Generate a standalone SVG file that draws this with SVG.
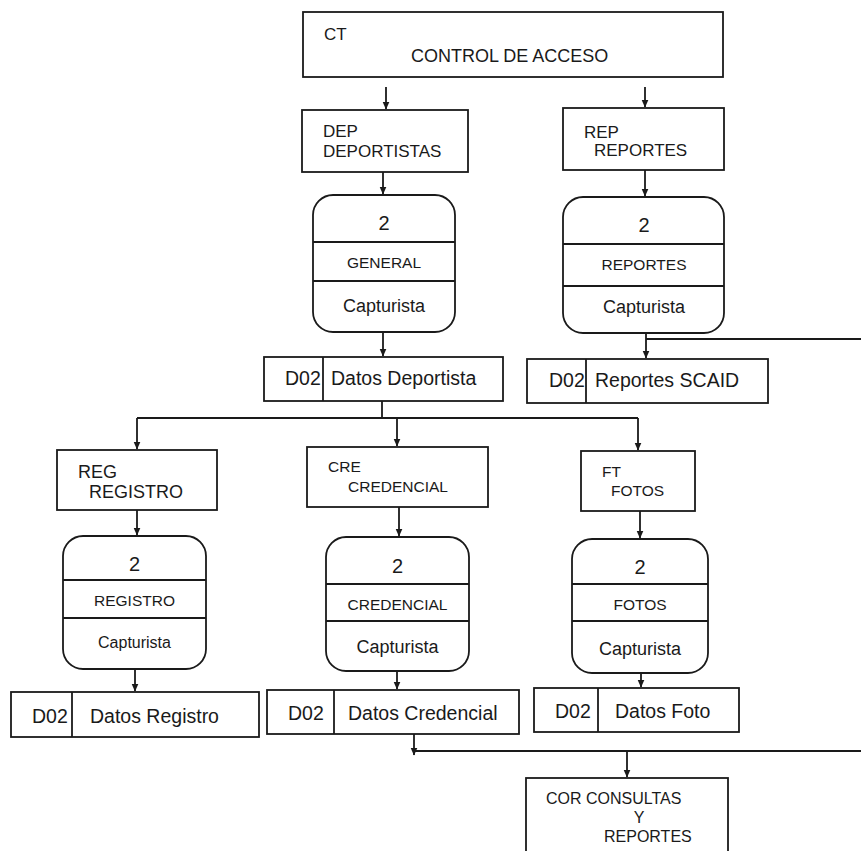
<svg xmlns="http://www.w3.org/2000/svg" width="861" height="851" viewBox="0 0 861 851">
<style>
.box{fill:#fff;stroke:#1a1a1a;stroke-width:1.8}
.ln{fill:none;stroke:#1a1a1a;stroke-width:1.8}
text{font-family:"Liberation Sans",Arial,sans-serif;fill:#1a1a1a}
.c{text-anchor:middle}
.t{font-size:17px}
.n{font-size:20px}
.m{font-size:15.5px}
.cap{font-size:18px}
.d{font-size:19.5px}
</style>
<defs>
<marker id="ah" viewBox="0 0 8 10" refX="7.5" refY="5" markerWidth="8" markerHeight="10" markerUnits="userSpaceOnUse" orient="auto">
<path d="M0,1.5 L8,5 L0,8.5 Z" fill="#1a1a1a"/>
</marker>
</defs>
<rect width="861" height="851" fill="#fff"/>

<g id="connectors">
<path class="ln" d="M386,87 V109" marker-end="url(#ah)"/>
<path class="ln" d="M645,87 V107" marker-end="url(#ah)"/>
<path class="ln" d="M383,172 V194" marker-end="url(#ah)"/>
<path class="ln" d="M645,170 V196" marker-end="url(#ah)"/>
<path class="ln" d="M383,332 V356" marker-end="url(#ah)"/>
<path class="ln" d="M646,333 V358" marker-end="url(#ah)"/>
<path class="ln" d="M646,339 H861"/>
<path class="ln" d="M382,401 V418 M137,418 H638"/>
<path class="ln" d="M137,418 V449" marker-end="url(#ah)"/>
<path class="ln" d="M397,418 V446" marker-end="url(#ah)"/>
<path class="ln" d="M638,418 V450" marker-end="url(#ah)"/>
<path class="ln" d="M137,510 V535" marker-end="url(#ah)"/>
<path class="ln" d="M399,507 V536" marker-end="url(#ah)"/>
<path class="ln" d="M640,511 V538" marker-end="url(#ah)"/>
<path class="ln" d="M135,669 V691" marker-end="url(#ah)"/>
<path class="ln" d="M397,671 V689" marker-end="url(#ah)"/>
<path class="ln" d="M641,673 V687" marker-end="url(#ah)"/>
<path class="ln" d="M414,734 V755" marker-end="url(#ah)"/>
<path class="ln" d="M414,751 H861"/>
<path class="ln" d="M627,751 V777" marker-end="url(#ah)"/>
</g>

<g id="ct">
<rect class="box" x="303" y="12" width="420" height="65"/>
<text class="t" x="324" y="40">CT</text>
<text class="cap" x="411" y="62">CONTROL DE ACCESO</text>
</g>

<g id="dep">
<rect class="box" x="302" y="110" width="166" height="62"/>
<text class="t" x="323" y="137">DEP</text>
<text class="t" x="323" y="157">DEPORTISTAS</text>
</g>

<g id="rep">
<rect class="box" x="563" y="108" width="161" height="62"/>
<text class="t" x="584" y="138">REP</text>
<text class="t" x="594" y="156">REPORTES</text>
</g>

<g id="proc-general">
<rect class="box" x="313" y="195" width="142" height="137" rx="20"/>
<path class="ln" d="M313,242 H455 M313,281 H455"/>
<text class="n c" x="384" y="230">2</text>
<text class="m c" x="384" y="268">GENERAL</text>
<text class="cap c" x="384" y="312">Capturista</text>
</g>

<g id="proc-reportes">
<rect class="box" x="563" y="197" width="161" height="136" rx="20"/>
<path class="ln" d="M563,244 H724 M563,286 H724"/>
<text class="n c" x="644" y="232">2</text>
<text class="m c" x="644" y="270">REPORTES</text>
<text class="cap c" x="644" y="313">Capturista</text>
</g>

<g id="ds-deportista">
<rect class="box" x="264" y="357" width="239" height="44"/>
<path class="ln" d="M323,357 V401"/>
<text class="d" x="285" y="385">D02</text>
<text class="d" x="331" y="385">Datos Deportista</text>
</g>

<g id="ds-scaid">
<rect class="box" x="527" y="359" width="241" height="44"/>
<path class="ln" d="M586,359 V403"/>
<text class="d" x="549" y="387">D02</text>
<text class="d" x="595" y="387">Reportes SCAID</text>
</g>

<g id="reg">
<rect class="box" x="57" y="450" width="160" height="60"/>
<text class="cap" x="78" y="478">REG</text>
<text class="cap" x="89" y="498">REGISTRO</text>
</g>

<g id="cre">
<rect class="box" x="307" y="447" width="181" height="60"/>
<text class="m" x="328" y="472">CRE</text>
<text class="m" x="348" y="492">CREDENCIAL</text>
</g>

<g id="ft">
<rect class="box" x="581" y="451" width="114" height="60"/>
<text class="m" x="602" y="477">FT</text>
<text class="m" x="611" y="496">FOTOS</text>
</g>

<g id="proc-registro">
<rect class="box" x="63" y="536" width="143" height="133" rx="20"/>
<path class="ln" d="M63,580 H206 M63,618 H206"/>
<text class="n c" x="134.5" y="571">2</text>
<text class="m c" x="134.5" y="606">REGISTRO</text>
<text class="c" x="134.5" y="648" style="font-size:16px">Capturista</text>
</g>

<g id="proc-credencial">
<rect class="box" x="326" y="537" width="143" height="134" rx="20"/>
<path class="ln" d="M326,584 H469 M326,621 H469"/>
<text class="n c" x="397.5" y="573">2</text>
<text class="m c" x="397.5" y="610">CREDENCIAL</text>
<text class="cap c" x="397.5" y="653">Capturista</text>
</g>

<g id="proc-fotos">
<rect class="box" x="572" y="539" width="136" height="134" rx="20"/>
<path class="ln" d="M572,584 H708 M572,621 H708"/>
<text class="n c" x="640" y="574">2</text>
<text class="m c" x="640" y="610">FOTOS</text>
<text class="cap c" x="640" y="655">Capturista</text>
</g>

<g id="ds-registro">
<rect class="box" x="11" y="692" width="248" height="45"/>
<path class="ln" d="M72,692 V737"/>
<text class="d" x="32" y="723">D02</text>
<text class="d" x="90" y="723">Datos Registro</text>
</g>

<g id="ds-credencial">
<rect class="box" x="267" y="690" width="252" height="44"/>
<path class="ln" d="M334,690 V734"/>
<text class="d" x="288" y="720">D02</text>
<text class="d" x="348" y="720">Datos Credencial</text>
</g>

<g id="ds-foto">
<rect class="box" x="534" y="688" width="205" height="44"/>
<path class="ln" d="M598,688 V732"/>
<text class="d" x="555" y="718">D02</text>
<text class="d" x="615" y="718">Datos Foto</text>
</g>

<g id="cor">
<rect class="box" x="526" y="778" width="202" height="80"/>
<text class="t" x="546" y="804" style="font-size:16px">COR CONSULTAS</text>
<text class="c" x="639" y="823" style="font-size:16px">Y</text>
<text x="604" y="842" style="font-size:16px">REPORTES</text>
</g>
</svg>
